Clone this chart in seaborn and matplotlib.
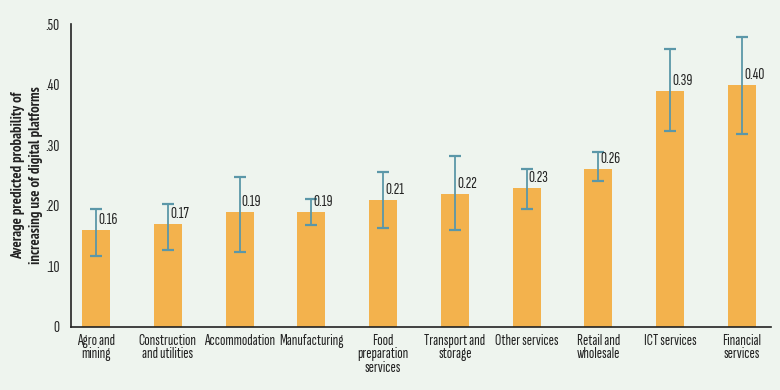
import numpy as np
import pandas as pd
import matplotlib.pyplot as plt
import seaborn as sns

# Data
sectors = ['Agro and\nmining', 'Construction\nand utilities', 'Accommodation', 'Manufacturing',
           'Food\npreparation\nservices', 'Transport and\nstorage', 'Other services',
           'Retail and\nwholesale', 'ICT services', 'Financial\nservices']
prob = [0.16, 0.17, 0.19, 0.19, 0.21, 0.22, 0.23, 0.26, 0.39, 0.40]
ci_low = [0.117, 0.127, 0.124, 0.169, 0.163, 0.160, 0.194, 0.241, 0.323, 0.319]
ci_high = [0.194, 0.203, 0.247, 0.211, 0.255, 0.282, 0.261, 0.288, 0.459, 0.478]
yticks = [0, 0.1, 0.2, 0.3, 0.4, 0.5]
ytick_labels = ['0', '.10', '.20', '.30', '.40', '.50']

df = pd.DataFrame({'sector': sectors, 'prob': prob, 'lo': ci_low, 'hi': ci_high})

bg = '#eef4ee'
sns.set_style('white')
plt.rcParams['font.family'] = ['Sofia Sans Extra Condensed', 'PT Sans Narrow', 'DejaVu Sans']

fig = plt.figure(figsize=(7.8, 3.9), dpi=100, facecolor=bg)
ax = fig.add_axes([0.091, 0.162, 0.897, 0.776])
ax.set_facecolor(bg)

sns.barplot(data=df, x='sector', y='prob', color='#f3b24d', width=0.39,
            saturation=1, linewidth=0, edgecolor='none', ax=ax)

x = np.arange(len(df))
yerr = [df['prob'] - df['lo'], df['hi'] - df['prob']]
ax.errorbar(x, df['prob'], yerr=yerr, fmt='none', ecolor='#5b97a8',
            elinewidth=1.3, capsize=4, capthick=1.6)

for xi, v in zip(x, df['prob']):
    ax.text(xi + 0.03, v + 0.005, f'{v:.2f}', ha='left', va='bottom',
            fontsize=12, color='#222222')

ax.set_xlim(-0.35, 9.4)
ax.set_ylim(0, 0.5)
ax.set_yticks(yticks)
ax.set_yticklabels(ytick_labels)
ax.tick_params(axis='both', length=0, labelsize=12, colors='#222222')
ax.tick_params(axis='x', labelsize=11.5)
ax.tick_params(axis='y', pad=8)
ax.tick_params(axis='x', pad=5)
ax.set_xlabel('')
ax.set_ylabel('Average predicted probability of\nincreasing use of digital platforms',
              fontsize=10.5, fontweight='bold', linespacing=1.3,
              family=['PT Sans Narrow', 'DejaVu Sans'], color='#222222')
ax.yaxis.label.set_verticalalignment('center')
ax.yaxis.set_label_coords(-0.063, 0.5)

for s in ['top', 'right']:
    ax.spines[s].set_visible(False)
for s in ['left', 'bottom']:
    ax.spines[s].set_color('#222222')
    ax.spines[s].set_linewidth(1.2)

for lbl in ax.get_xticklabels():
    lbl.set_linespacing(0.95)

plt.savefig('out.png', dpi=100, facecolor=bg)
